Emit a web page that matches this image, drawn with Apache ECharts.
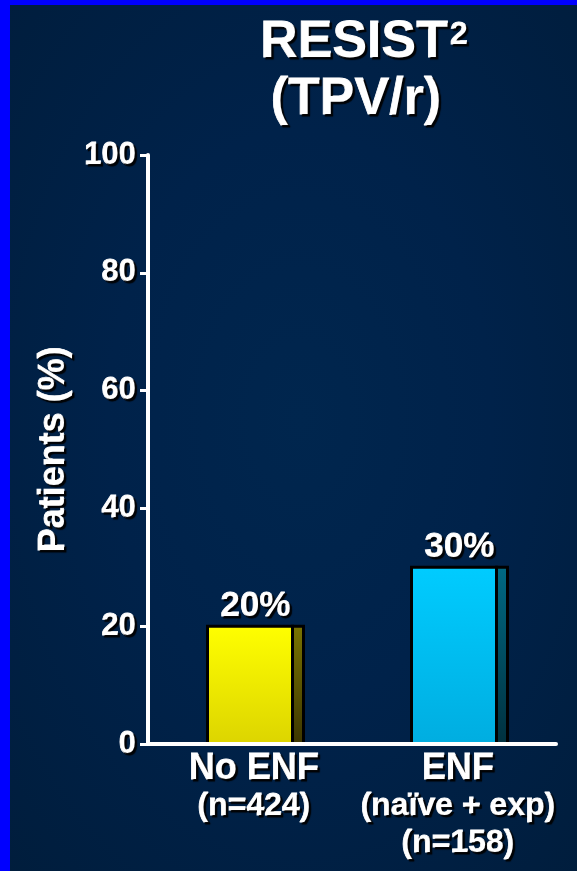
<!DOCTYPE html>
<html>
<head>
<meta charset="utf-8">
<script src="https://cdn.jsdelivr.net/npm/echarts@6/dist/echarts.min.js"></script>
<style>
  html, body { margin: 0; padding: 0; }
  #chart {
    width: 577px; height: 871px;
    background: radial-gradient(ellipse at 52% 48%, #00264e 0%, #00224a 45%, #001d3c 100%);
  }
</style>
</head>
<body>
<div id="chart"></div>
<script>
// Share of patients (%) by enfuvirtide use, RESIST pooled analysis (TPV/r arm)
const categories = ['No ENF', 'ENF'];
const subLabels = [['(n=424)'], ['(naïve + exp)', '(n=158)']];
const values = [20, 30];
const yMin = 0, yMax = 100, yStep = 20;

const FONT = '"Liberation Sans", Arial, Helvetica, sans-serif';
const SHADOW = { textShadowColor: 'rgba(0,0,0,0.95)', textShadowOffsetX: 2, textShadowOffsetY: 2, textShadowBlur: 1 };
// slightly heavier strokes: echarts text styles vs. raw zrender text
const THICK = { textBorderColor: '#fff', textBorderWidth: 0.8 };
const THICK_Z = { stroke: '#fff', lineWidth: 0.8 };

// face / side shading for each bar
const faceColors = [['#ffff00', '#dcd400'], ['#00ccff', '#00ade0']];
const sideColors = [['#7a7400', '#3c3600'], ['#006a84', '#00303e']];

function vGrad(c) {
  return new echarts.graphic.LinearGradient(0, 0, 0, 1, [
    { offset: 0, color: c[0] }, { offset: 1, color: c[1] }
  ]);
}

function renderBar(params, api) {
  const idx = api.value(0);
  const v = api.value(1);
  const top = api.coord([idx, v]);
  const base = api.coord([idx, 0]);
  const frontW = 85, sideW = 11;
  const x0 = top[0] - frontW / 2;
  const h = base[1] - top[1];
  return {
    type: 'group',
    children: [
      { type: 'rect', shape: { x: x0, y: top[1], width: frontW, height: h },
        style: { fill: vGrad(faceColors[idx]), stroke: '#000', lineWidth: 3 } },
      { type: 'rect', shape: { x: x0 + frontW, y: top[1], width: sideW, height: h },
        style: { fill: vGrad(sideColors[idx]), stroke: '#000', lineWidth: 3 } },
      { type: 'text', x: x0 + (frontW + sideW) / 2, y: top[1] - 2,
        style: Object.assign({
          text: v + '%', textAlign: 'center', textVerticalAlign: 'bottom',
          fontFamily: FONT, fontWeight: 'bold', fontSize: 35, fill: '#fff'
        }, SHADOW, THICK_Z) }
    ]
  };
}

const chart = echarts.init(document.getElementById('chart'), null, { renderer: 'canvas' });
chart.setOption({
  animation: false,
  backgroundColor: 'transparent',
  grid: { left: 148, right: 21, top: 155, bottom: 127 },
  graphic: [
    { type: 'rect', z: 100, shape: { x: 0, y: 0, width: 10, height: 871 }, style: { fill: '#0000ff' } },
    { type: 'rect', z: 100, shape: { x: 0, y: 0, width: 577, height: 5 }, style: { fill: '#0000ff' } },
    { type: 'text', x: 364, y: 14, z: 50,
      style: {
        text: '{m|RESIST}{s|2}\n{n|(TPV/r)}',
        textAlign: 'center',
        fill: '#fff',
        rich: {
          m: Object.assign({ fontFamily: FONT, fontWeight: 'bold', fontSize: 52, lineHeight: 57, fill: '#fff' }, SHADOW, THICK_Z),
          n: Object.assign({ fontFamily: FONT, fontWeight: 'bold', fontSize: 52, lineHeight: 57, padding: [0, 16, 0, 0], fill: '#fff' }, SHADOW, THICK_Z),
          s: Object.assign({ fontFamily: FONT, fontWeight: 'bold', fontSize: 32, lineHeight: 57, verticalAlign: 'top', padding: [5, 0, 0, 2], fill: '#fff' }, SHADOW, THICK_Z)
        }
      } }
  ],
  xAxis: {
    type: 'category',
    data: categories,
    z: 5,
    axisLine: { lineStyle: { color: '#fff', width: 4 } },
    axisTick: { show: false },
    axisLabel: {
      interval: 0,
      margin: 6,
      color: '#fff',
      padding: [0, 0, 0, 8],
      formatter: function (value, index) {
        return '{h|' + value + '}\n' + subLabels[index].map(s => '{s|' + s + '}').join('\n');
      },
      rich: {
        h: Object.assign({ fontFamily: FONT, fontWeight: 'bold', fontSize: 36, lineHeight: 38, color: '#fff' }, SHADOW, THICK),
        s: Object.assign({ fontFamily: FONT, fontWeight: 'bold', fontSize: 32, lineHeight: 37, color: '#fff' }, SHADOW, THICK)
      }
    }
  },
  yAxis: {
    type: 'value',
    min: yMin, max: yMax, interval: yStep,
    z: 5,
    name: 'Patients (%)',
    nameLocation: 'middle',
    nameGap: 70,
    nameTextStyle: Object.assign({ fontFamily: FONT, fontWeight: 'bold', fontSize: 36, color: '#fff' }, SHADOW, THICK),
    axisLine: { show: true, lineStyle: { color: '#fff', width: 4 } },
    axisTick: { show: true, length: 8, lineStyle: { color: '#fff', width: 3 } },
    splitLine: { show: false },
    axisLabel: Object.assign({ fontFamily: FONT, fontWeight: 'bold', fontSize: 31, color: '#fff', margin: 12 }, SHADOW, THICK)
  },
  series: [{
    type: 'custom',
    renderItem: renderBar,
    encode: { x: 0, y: 1 },
    data: values.map((v, i) => [i, v])
  }]
});
</script>
</body>
</html>
